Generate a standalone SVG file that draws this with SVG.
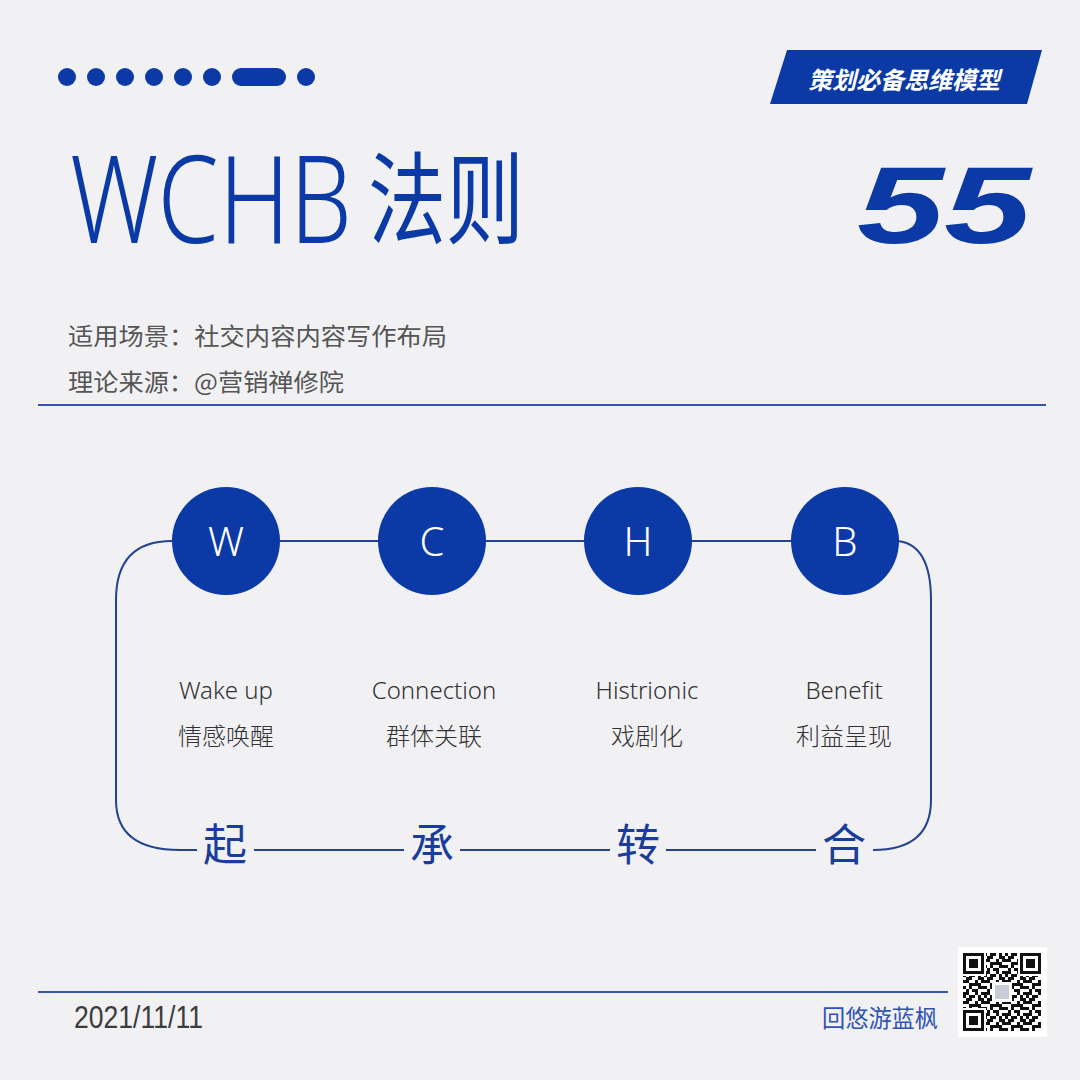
<svg xmlns="http://www.w3.org/2000/svg" width="1080" height="1080" viewBox="0 0 1080 1080">
<defs>
<style>
.blue{fill:#0b3aa6}
.cjk{font-family:"Noto Sans CJK SC","Noto Sans",sans-serif}
.lat{font-family:"Noto Sans","Open Sans",sans-serif}
.lbl{font-size:24px;fill:#333;text-anchor:middle;font-weight:300}
.circ{fill:#0b3aa6}
.ctxt{font-family:"Noto Sans","Open Sans",sans-serif;font-size:40px;font-weight:300;fill:#fff;text-anchor:middle}
.phase{font-family:"Noto Sans CJK SC",sans-serif;font-size:44px;font-weight:400;fill:#1a3d9c;text-anchor:middle}
.ln{fill:none;stroke:#23428f;stroke-width:2}
.rule{stroke:#3556ab;stroke-width:2}
</style>
<pattern id="qr" x="963" y="953" width="21" height="21" patternUnits="userSpaceOnUse">
<rect width="21" height="21" fill="#fff"/>
<g fill="#111">
<rect x="0" y="0" width="3" height="3"/><rect x="6" y="0" width="6" height="3"/><rect x="15" y="0" width="3" height="3"/>
<rect x="3" y="3" width="6" height="3"/><rect x="15" y="3" width="6" height="3"/>
<rect x="0" y="6" width="6" height="3"/><rect x="12" y="6" width="3" height="3"/><rect x="18" y="6" width="3" height="3"/>
<rect x="6" y="9" width="12" height="3"/>
<rect x="0" y="12" width="3" height="3"/><rect x="6" y="12" width="3" height="3"/><rect x="15" y="12" width="6" height="3"/>
<rect x="3" y="15" width="3" height="3"/><rect x="9" y="15" width="6" height="3"/>
<rect x="0" y="18" width="6" height="3"/><rect x="12" y="18" width="3" height="3"/><rect x="18" y="18" width="3" height="3"/>
</g>
</pattern>
<g id="finder">
<rect x="-2" y="-2" width="25" height="25" fill="#fff"/>
<rect x="0" y="0" width="21" height="21" fill="#111"/>
<rect x="3" y="3" width="15" height="15" fill="#fff"/>
<rect x="6" y="6" width="9" height="9" fill="#111"/>
</g>
</defs>
<rect width="1080" height="1080" fill="#f1f1f3"/>

<g id="header-dots" class="blue">
<circle cx="67" cy="77" r="9"/><circle cx="96" cy="77" r="9"/><circle cx="125" cy="77" r="9"/>
<circle cx="154" cy="77" r="9"/><circle cx="183" cy="77" r="9"/><circle cx="212" cy="77" r="9"/>
<rect x="232" y="68" width="54" height="18" rx="9"/>
<circle cx="306" cy="77" r="9"/>
</g>

<g id="banner">
<polygon points="787,50 1042,50 1027,104 770,104" fill="#0b3aa6"/>
<text transform="translate(808,89) skewX(-14)" class="cjk" font-size="24" font-weight="700" fill="#fff" textLength="192" lengthAdjust="spacingAndGlyphs">策划必备思维模型</text>
</g>

<g id="number">
<text x="857" y="243" font-family="Liberation Sans, Arial, sans-serif" font-size="110" font-weight="700" font-style="italic" fill="#0b3aa6" textLength="174" lengthAdjust="spacingAndGlyphs">55</text>
</g>

<g id="title" fill="#0b3aa6">
<text transform="translate(70,243) scale(1,1.3)" class="lat" font-size="94" font-weight="300" textLength="282" lengthAdjust="spacingAndGlyphs">WCHB</text>
<text x="368" y="236" class="cjk" font-size="100" font-weight="400" textLength="156" lengthAdjust="spacingAndGlyphs">法则</text>
</g>

<g id="subtitle" class="cjk" font-size="24" fill="#555">
<text x="68" y="345" textLength="379" lengthAdjust="spacingAndGlyphs">适用场景：社交内容内容写作布局</text>
<text x="68" y="391" textLength="276" lengthAdjust="spacingAndGlyphs">理论来源：@营销禅修院</text>
</g>
<line x1="38" y1="405" x2="1046" y2="405" class="rule"/>

<g id="connectors">
<path class="ln" d="M898,541 Q931,545 931,600 L931,800 Q931,850 873,850"/>
<path class="ln" d="M172,541 Q116,541 116,600 L116,800 Q116,850 180,850 L197,850"/>
<line class="ln" x1="226" y1="541" x2="845" y2="541"/>
<line class="ln" x1="254" y1="850" x2="404" y2="850"/>
<line class="ln" x1="460" y1="850" x2="610" y2="850"/>
<line class="ln" x1="666" y1="850" x2="816" y2="850"/>
</g>

<g id="node-W">
<circle class="circ" cx="226" cy="541" r="54"/>
<text class="ctxt" x="226" y="556">W</text>
<text class="lat lbl" x="226" y="699">Wake up</text>
<text class="cjk lbl" x="226" y="745">情感唤醒</text>
<text class="phase" x="225" y="861">起</text>
</g>
<g id="node-C">
<circle class="circ" cx="432" cy="541" r="54"/>
<text class="ctxt" x="432" y="556">C</text>
<text class="lat lbl" x="434" y="699">Connection</text>
<text class="cjk lbl" x="434" y="745">群体关联</text>
<text class="phase" x="432" y="861">承</text>
</g>
<g id="node-H">
<circle class="circ" cx="638" cy="541" r="54"/>
<text class="ctxt" x="638" y="556">H</text>
<text class="lat lbl" x="647" y="699">Histrionic</text>
<text class="cjk lbl" x="647" y="745">戏剧化</text>
<text class="phase" x="638" y="861">转</text>
</g>
<g id="node-B">
<circle class="circ" cx="845" cy="541" r="54"/>
<text class="ctxt" x="845" y="556">B</text>
<text class="lat lbl" x="844" y="699">Benefit</text>
<text class="cjk lbl" x="844" y="745">利益呈现</text>
<text class="phase" x="844" y="861">合</text>
</g>

<line x1="38" y1="992" x2="948" y2="992" class="rule"/>
<g id="footer">
<text x="74" y="1028" font-family="Liberation Sans, Arial, sans-serif" font-size="32" fill="#3c3c3c" textLength="129" lengthAdjust="spacingAndGlyphs">2021/11/11</text>
<text x="822" y="1027" class="cjk" font-size="24" font-weight="400" fill="#2f55b0" textLength="116" lengthAdjust="spacingAndGlyphs">回悠游蓝枫</text>
</g>

<g id="qrcode">
<rect x="958" y="947" width="89" height="90" fill="#fff"/>
<rect x="963" y="953" width="78" height="78" fill="url(#qr)"/>
<use href="#finder" x="963" y="953"/>
<use href="#finder" x="1020" y="953"/>
<use href="#finder" x="963" y="1010"/>
<rect x="992" y="982" width="20" height="20" fill="#fff"/>
<rect x="995" y="985" width="14" height="14" fill="#c9ccd6"/>
</g>
</svg>
